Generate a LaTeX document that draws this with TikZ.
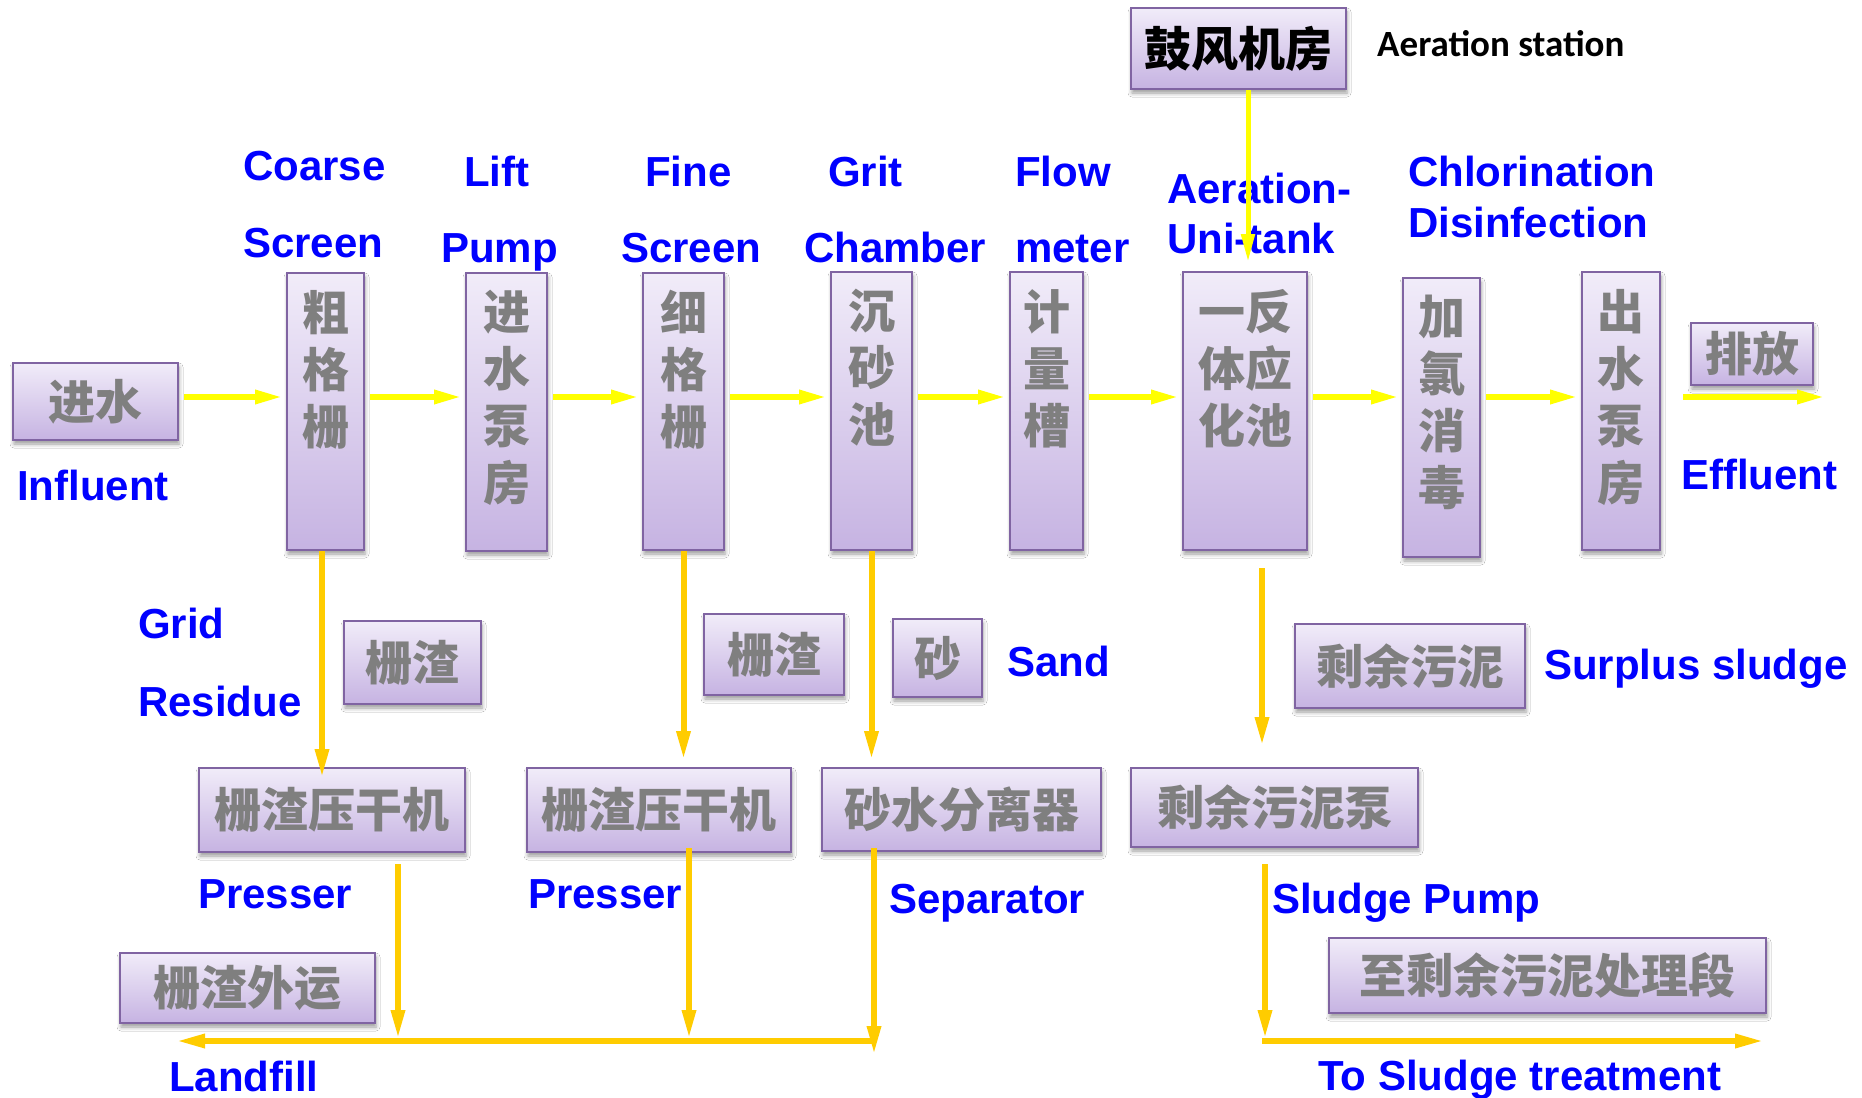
\documentclass[tikz,border=0pt]{standalone}
\usepackage{fontspec}
\newfontfamily\cjk{Noto Sans CJK SC}
\newfontfamily\lab{Liberation Sans}
\newfontfamily\calfnt{Carlito}
\usetikzlibrary{arrows.meta,shadows.blur,calc}
\definecolor{boxtop}{HTML}{F1ECF9}
\definecolor{boxbot}{HTML}{C6B3E2}
\definecolor{boxline}{HTML}{8064A2}
\definecolor{cjkgray}{HTML}{7F7F7F}
\definecolor{flowyellow}{HTML}{FFFF00}
\definecolor{gold}{HTML}{FFCC00}
\definecolor{labblue}{HTML}{0000FF}
\begin{document}
\begin{tikzpicture}[x=1pt,y=-1pt,
  box/.style={draw=boxline,line width=2pt,top color=boxtop,bottom color=boxbot,
    blur shadow={shadow xshift=1pt,shadow yshift=-4pt,shadow blur radius=4pt,shadow opacity=40},
    anchor=north west,inner sep=0pt},
  ctext/.style={font=\cjk\bfseries\fontsize{47}{57}\selectfont,text=cjkgray,align=center,inner sep=0pt},
  blab/.style={font=\lab\bfseries\fontsize{42}{50}\selectfont,text=labblue,inner sep=0pt,anchor=base west},
  flow/.style={draw=flowyellow,line width=6pt,-{Triangle[length=28pt,width=13pt]},shorten <=5pt,shorten >=3pt},
  gflow/.style={draw=gold,line width=6pt,-{Triangle[length=29pt,width=13pt]}}
]
\useasboundingbox (0,0) rectangle (1862,1097);
\fill[white] (0,0) rectangle (1862,1097);
\coordinate (row) at (0,397);

% blower house
\node[box,minimum width=215pt,minimum height=81pt] (blw) at (1130,7) {};
\node[ctext,text=black] (blwt) at (blw.center) {鼓风机房};
\node[font=\calfnt\bfseries\fontsize{37}{44}\selectfont,anchor=base west,inner sep=0pt] (blwl) at (1377,57) {Aeration station};

% main row boxes
\node[box,minimum width=165pt,minimum height=77pt] (in) at (12,362) {};
\node[ctext] (int) at (in.center) {进水};
\node[box,minimum width=77pt,minimum height=277pt] (cs) at (286,272) {};
\node[ctext,anchor=north] (cst) at ($(cs.north)+(0,18)$) {粗\\格\\栅};
\node[box,minimum width=81pt,minimum height=278pt] (lp) at (465,272) {};
\node[ctext,anchor=north] (lpt) at ($(lp.north)+(0,18)$) {进\\水\\泵\\房};
\node[box,minimum width=81pt,minimum height=277pt] (fs) at (642,272) {};
\node[ctext,anchor=north] (fst) at ($(fs.north)+(0,18)$) {细\\格\\栅};
\node[box,minimum width=81pt,minimum height=278pt] (gc) at (830,271) {};
\node[ctext,anchor=north] (gct) at ($(gc.north)+(0,18)$) {沉\\砂\\池};
\node[box,minimum width=73pt,minimum height=278pt] (fm) at (1009,271) {};
\node[ctext,anchor=north] (fmt) at ($(fm.north)+(0,18)$) {计\\量\\槽};
\node[box,minimum width=124pt,minimum height=278pt] (at) at (1182,271) {};
\node[ctext,anchor=north] (att) at ($(at.north)+(0,18)$) {一反\\体应\\化池};
\node[box,minimum width=77pt,minimum height=279pt] (cd) at (1402,277) {};
\node[ctext,anchor=north] (cdt) at ($(cd.north)+(0,18)$) {加\\氯\\消\\毒};
\node[box,minimum width=78pt,minimum height=278pt] (ep) at (1581,271) {};
\node[ctext,anchor=north] (ept) at ($(ep.north)+(0,18)$) {出\\水\\泵\\房};
\node[box,minimum width=122pt,minimum height=62pt] (dc) at (1690,322) {};
\node[ctext] (dct) at (dc.center) {排放};

% lower boxes
\node[box,minimum width=137pt,minimum height=83pt] (g1) at (343,620) {};
\node[ctext] (g1t) at (g1.center) {栅渣};
\node[box,minimum width=140pt,minimum height=81pt] (g2) at (703,613) {};
\node[ctext] (g2t) at (g2.center) {栅渣};
\node[box,minimum width=89pt,minimum height=78pt] (sd) at (892,618) {};
\node[ctext] (sdt) at (sd.center) {砂};
\node[box,minimum width=230pt,minimum height=84pt] (ss) at (1294,623) {};
\node[ctext] (sst) at (ss.center) {剩余污泥};
\node[box,minimum width=266pt,minimum height=84pt] (p1) at (198,767) {};
\node[ctext] (p1t) at (p1.center) {栅渣压干机};
\node[box,minimum width=264pt,minimum height=84pt] (p2) at (526,767) {};
\node[ctext] (p2t) at (p2.center) {栅渣压干机};
\node[box,minimum width=279pt,minimum height=83pt] (sep) at (821,767) {};
\node[ctext] (sept) at (sep.center) {砂水分离器};
\node[box,minimum width=287pt,minimum height=79pt] (spm) at (1130,767) {};
\node[ctext] (spmt) at (spm.center) {剩余污泥泵};
\node[box,minimum width=255pt,minimum height=70pt] (gw) at (119,952) {};
\node[ctext] (gwt) at (gw.center) {栅渣外运};
\node[box,minimum width=437pt,minimum height=75pt] (ts) at (1328,937) {};
\node[ctext] (tst) at (ts.center) {至剩余污泥处理段};

% blue labels
\node[blab] (l1) at (243,180) {Coarse};
\node[blab] (l2) at (243,257) {Screen};
\node[blab] (l3) at (464,186) {Lift};
\node[blab] (l4) at (441,262) {Pump};
\node[blab] (l5) at (645,186) {Fine};
\node[blab] (l6) at (621,262) {Screen};
\node[blab] (l7) at (828,186) {Grit};
\node[blab] (l8) at (804,262) {Chamber};
\node[blab] (l9) at (1015,186) {Flow};
\node[blab] (l10) at (1015,262) {meter};
\node[blab] (l11) at (1167,203) {Aeration-};
\node[blab] (l12) at (1167,253) {Uni-tank};
\node[blab] (l13) at (1408,186) {Chlorination};
\node[blab] (l14) at (1408,237) {Disinfection};
\node[blab] (l15) at (17,500) {Influent};
\node[blab] (l16) at (1681,489) {Effluent};
\node[blab] (l17) at (138,638) {Grid};
\node[blab] (l18) at (138,716) {Residue};
\node[blab] (l19) at (1007,676) {Sand};
\node[blab] (l20) at (1544,679) {Surplus sludge};
\node[blab] (l21) at (198,908) {Presser};
\node[blab] (l22) at (528,908) {Presser};
\node[blab] (l23) at (889,913) {Separator};
\node[blab] (l24) at (1272,913) {Sludge Pump};
\node[blab] (l25) at (169,1091) {Landfill};
\node[blab] (l26) at (1318,1090) {To Sludge treatment};

% main flow arrows
\draw[flow] (in.east |- row) -- (cs.west |- row);
\draw[flow] (cs.east |- row) -- (lp.west |- row);
\draw[flow] (lp.east |- row) -- (fs.west |- row);
\draw[flow] (fs.east |- row) -- (gc.west |- row);
\draw[flow] (gc.east |- row) -- (fm.west |- row);
\draw[flow] (fm.east |- row) -- (at.west |- row);
\draw[flow] (at.east |- row) -- (cd.west |- row);
\draw[flow] (cd.east |- row) -- (ep.west |- row);
\coordinate (outend) at (1825,397);
\draw[flow,shorten <=22pt,shorten >=0pt] (ep.east |- row) -- (outend);
\draw[flow,line width=5pt,shorten <=0pt,shorten >=9pt] ($(blw.south)+(9.5,0)$) -- ($(blw.south |- at.north)+(9.5,0)$);

% downward arrows
\draw[gflow] ($(cs.south)+(-3.5,0)$) -- ($(cs.south |- p1.north)+(-3.5,11)$);
\draw[gflow] (fs.south) -- ($(fs.south |- p2.north)+(0,-7)$);
\draw[gflow] (gc.south) -- ($(gc.south |- sep.north)+(0,-7)$);
\draw[gflow] ($(at.south)+(17,17)$) -- ($(at.south |- spm.north)+(17,-21)$);

% landfill collector
\coordinate (lfL) at (176,1041);
\coordinate (lfR) at (876,1041);
\draw[gflow] (lfR) -- (lfL);
\draw[gflow] ($(p1.south)+(66,11)$) -- ($(p1.south |- lfL)+(66,-2)$);
\draw[gflow] ($(p2.south)+(30,-5)$) -- ($(p2.south |- lfL)+(30,-2)$);
\draw[gflow] ($(sep.south)+(-87.5,-4)$) -- ($(sep.south |- lfL)+(-87.5,14)$);

% sludge line
\coordinate (sdR) at (1764,1041);
\coordinate (sdL) at ($(spm.south |- sdR)+(-9.5,0)$);
\draw[gflow] ($(spm.south)+(-9.5,16)$) -- ($(sdL)+(0,-2)$);
\draw[gflow,shorten <=-3pt] (sdL) -- (sdR);
\end{tikzpicture}
\end{document}
